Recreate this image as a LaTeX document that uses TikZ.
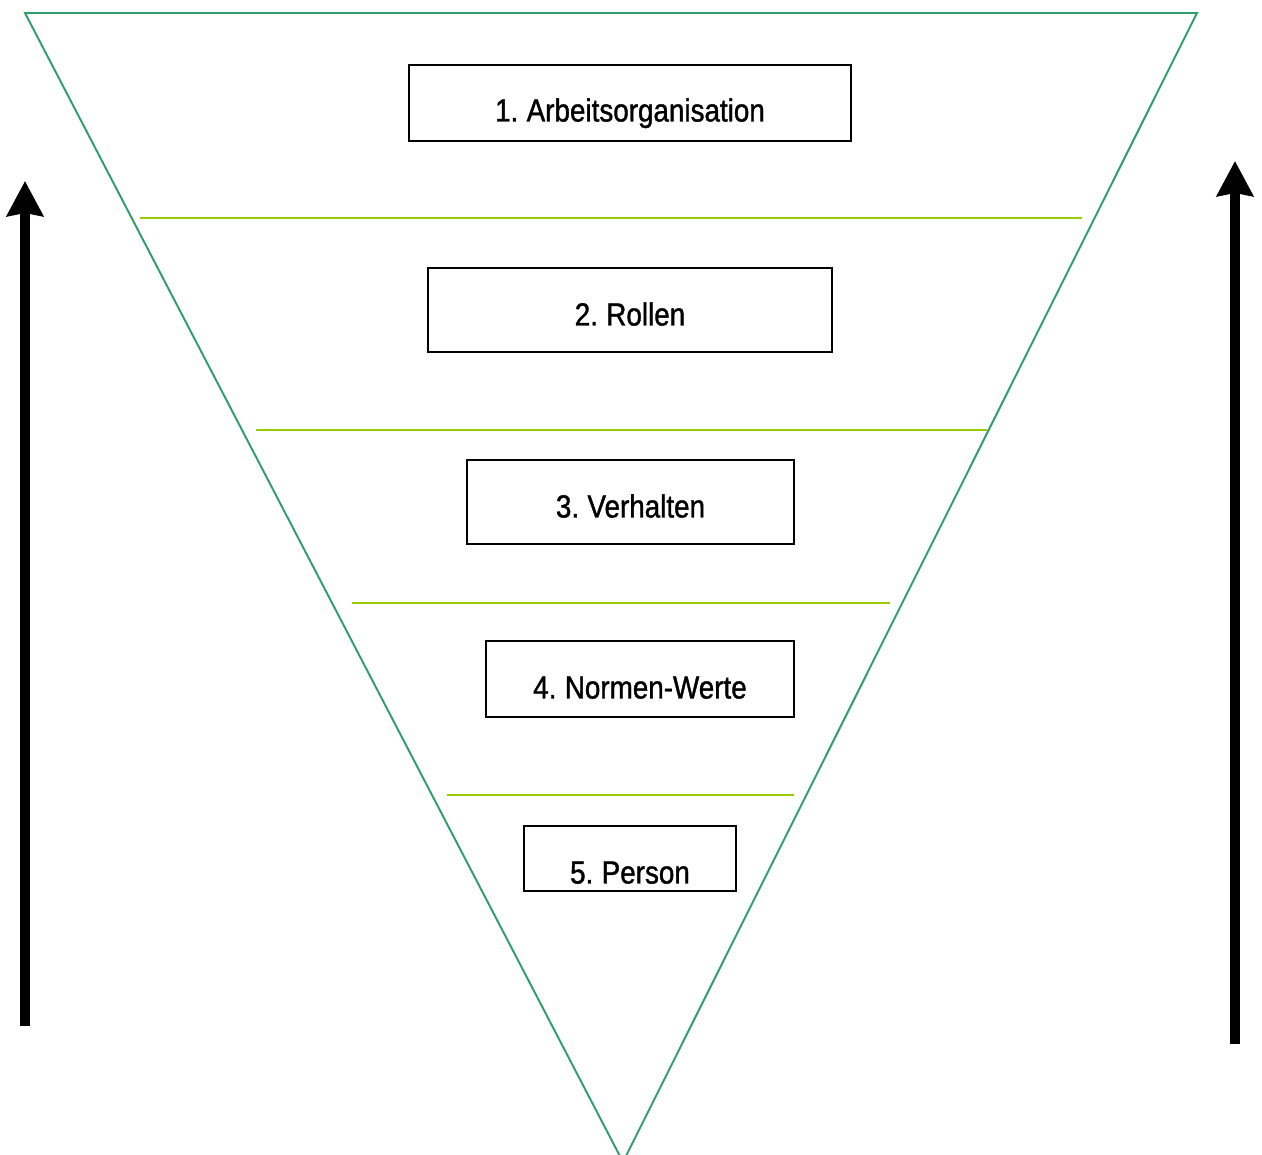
\documentclass[tikz,border=0pt]{standalone}
\usepackage{fontspec}
\setmainfont{Liberation Sans}[FakeStretch=0.87, FakeBold=1.2, WordSpace=0.75]
\usepackage{tikz}
\usetikzlibrary{arrows.meta}

\definecolor{trigreen}{RGB}{46,158,106}
\definecolor{linegreen}{RGB}{153,204,0}

\begin{document}
\begin{tikzpicture}[x=0.02cm, y=-0.02cm,
        level/.style={draw=black, line width=1pt, fill=white, inner sep=0pt,
                      font=\fontsize{18.2}{20}\selectfont, text depth=0pt},
        divider/.style={draw=linegreen, line width=1.1pt},
        bigarrow/.style={line width=5.7pt, -{Stealth[width=0.72cm, length=0.7cm, inset=0.06cm]}}]
        \useasboundingbox (0,0) rectangle (1262,1155);
        % triangle
        \coordinate (tl) at (25,13);
        \coordinate (tr) at (1197,13);
        \coordinate (apex) at (623,1162);
        \draw[trigreen, line width=1.1pt] (apex) -- (tl) -- (tr) -- cycle;
        % dividers
        \draw[divider] (140,218) -- (1082,218);
        \draw[divider] (256,430) -- (987,430);
        \draw[divider] (352,603) -- (890,603);
        \draw[divider] (447,795) -- (794,795);
        % levels
        \node[level, minimum width=442*0.02cm, minimum height=76*0.02cm, text height=0.74cm] (arbeit) at (630,103) {1. Arbeitsorganisation};
        \node[level, minimum width=404*0.02cm, minimum height=84*0.02cm, text height=0.62cm] (rollen) at (630,310) {2. Rollen};
        \node[level, minimum width=327*0.02cm, minimum height=84*0.02cm, text height=0.62cm] (verhalten) at (630.5,502) {3. Verhalten};
        \node[level, minimum width=308*0.02cm, minimum height=76*0.02cm, text height=0.78cm] (normen) at (640,679) {4. Normen-Werte};
        \node[level, minimum width=212*0.02cm, minimum height=65*0.02cm, text height=1.0cm] (person) at (630,858.5) {5. Person};
        % arrows
        \coordinate (lfoot) at (25,1026);
        \coordinate (ltip) at (25,181);
        \coordinate (rfoot) at (1235,1044);
        \coordinate (rtip) at (1235,161);
        \draw[bigarrow] (lfoot) -- (ltip);
        \draw[bigarrow] (rfoot) -- (rtip);
\end{tikzpicture}
\end{document}
